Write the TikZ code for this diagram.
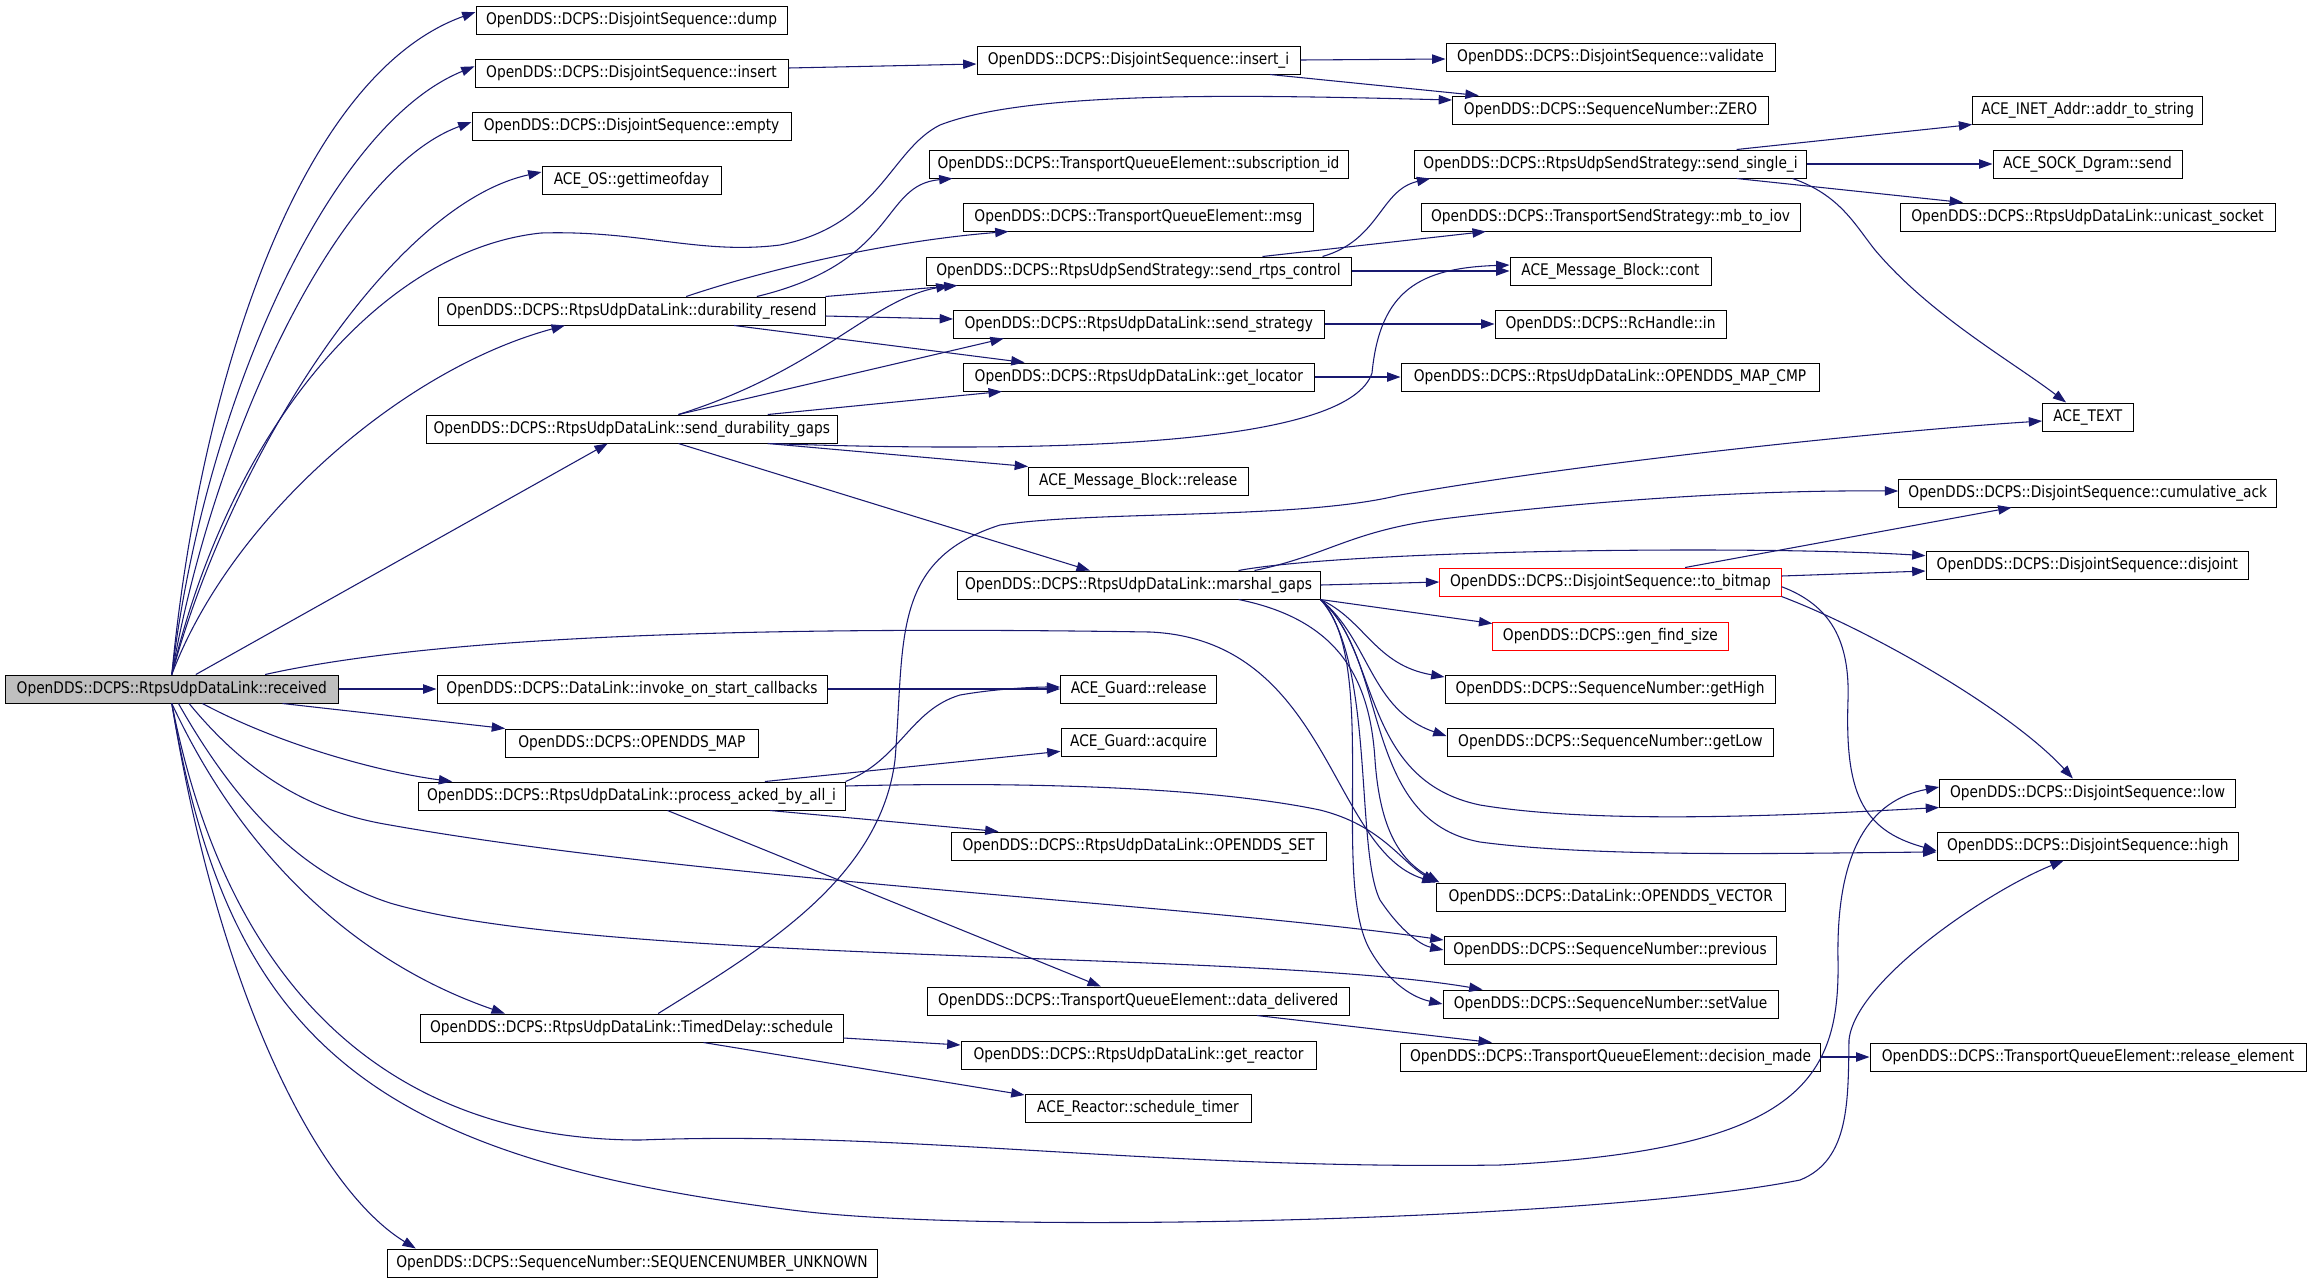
\documentclass[tikz,border=0pt]{standalone}
\usepackage{fontspec}
\setmainfont{DejaVu Sans}[FakeStretch=0.86]
\usetikzlibrary{arrows.meta}
\definecolor{callblue}{HTML}{191970}
\definecolor{rootgray}{HTML}{BFBFBF}
\tikzset{
  fn/.style={draw=black, line width=0.75pt, minimum height=21pt, inner xsep=0pt, inner ysep=0pt,
    font=\fontsize{12}{14}\selectfont},
  fnext/.style={fn, draw=red},
  fnroot/.style={fn, fill=rootgray},
  call/.style={draw=callblue, line width=0.8pt, -{Triangle[length=10pt,width=7pt]}}
}
\begin{document}
\begin{tikzpicture}[x=0.75pt,y=-0.75pt]
\useasboundingbox (0,0) rectangle (2312,1283);
% boxes: name/left/right/y/text
\foreach \n/\xa/\xb/\yc/\txt in {
  dump/476/787/20/OpenDDS::DCPS::DisjointSequence::dump,
  ins/475/788/73/OpenDDS::DCPS::DisjointSequence::insert,
  empty/472/791/126/OpenDDS::DCPS::DisjointSequence::empty,
  tod/542/721/180/ACE\_OS::gettimeofday,
  dres/438/825/311/OpenDDS::DCPS::RtpsUdpDataLink::durability\_resend,
  sdg/426.5/837/429/OpenDDS::DCPS::RtpsUdpDataLink::send\_durability\_gaps,
  insi/977/1300/60/OpenDDS::DCPS::DisjointSequence::insert\_i,
  valid/1446/1775/57/OpenDDS::DCPS::DisjointSequence::validate,
  zero/1452.5/1768.6/110/OpenDDS::DCPS::SequenceNumber::ZERO,
  subid/929/1348/164/OpenDDS::DCPS::TransportQueueElement::subscription\_id,
  msg/963.7/1313/217/OpenDDS::DCPS::TransportQueueElement::msg,
  srtps/926/1351/271/OpenDDS::DCPS::RtpsUdpSendStrategy::send\_rtps\_control,
  sstrat/953.5/1324/324/OpenDDS::DCPS::RtpsUdpDataLink::send\_strategy,
  getloc/963.7/1314/377/OpenDDS::DCPS::RtpsUdpDataLink::get\_locator,
  mbrel/1028.5/1248/481/ACE\_Message\_Block::release,
  mgaps/957/1320/585/OpenDDS::DCPS::RtpsUdpDataLink::marshal\_gaps,
  ssing/1414.7/1806.4/164/OpenDDS::DCPS::RtpsUdpSendStrategy::send\_single\_i,
  mbiov/1421/1800/217/OpenDDS::DCPS::TransportSendStrategy::mb\_to\_iov,
  mbcont/1510/1711/271/ACE\_Message\_Block::cont,
  rcin/1495/1726/324/OpenDDS::DCPS::RcHandle::in,
  mapcmp/1401/1819/377/OpenDDS::DCPS::RtpsUdpDataLink::OPENDDS\_MAP\_CMP,
  a2s/1972.7/2202.8/110/ACE\_INET\_Addr::addr\_to\_string,
  dgram/1993/2182/164/ACE\_SOCK\_Dgram::send,
  ucast/1900/2275/217/OpenDDS::DCPS::RtpsUdpDataLink::unicast\_socket,
  acetext/2042.6/2133/417/ACE\_TEXT,
  cack/1898.7/2276.8/493/OpenDDS::DCPS::DisjointSequence::cumulative\_ack,
  disj/1926/2248.7/565/OpenDDS::DCPS::DisjointSequence::disjoint,
  invoke/437/827/689/OpenDDS::DCPS::DataLink::invoke\_on\_start\_callbacks,
  omap/505.6/758/743/OpenDDS::DCPS::OPENDDS\_MAP,
  pack/418/845/796/OpenDDS::DCPS::RtpsUdpDataLink::process\_acked\_by\_all\_i,
  tds/420/843/1028/OpenDDS::DCPS::RtpsUdpDataLink::TimedDelay::schedule,
  snu/387/877/1263/OpenDDS::DCPS::SequenceNumber::SEQUENCENUMBER\_UNKNOWN,
  grel/1060.6/1216.7/689/ACE\_Guard::release,
  gacq/1061/1216/742/ACE\_Guard::acquire,
  oset/951/1326/846/OpenDDS::DCPS::RtpsUdpDataLink::OPENDDS\_SET,
  ddel/927.4/1349/1001/OpenDDS::DCPS::TransportQueueElement::data\_delivered,
  greac/961/1316/1055/OpenDDS::DCPS::RtpsUdpDataLink::get\_reactor,
  stimer/1025/1251/1108/ACE\_Reactor::schedule\_timer,
  ghigh/1445/1775/689/OpenDDS::DCPS::SequenceNumber::getHigh,
  glow/1447/1773.7/742/OpenDDS::DCPS::SequenceNumber::getLow,
  ovec/1436/1785.5/897/OpenDDS::DCPS::DataLink::OPENDDS\_VECTOR,
  prev/1444/1776/950/OpenDDS::DCPS::SequenceNumber::previous,
  setv/1443/1778/1004/OpenDDS::DCPS::SequenceNumber::setValue,
  dmade/1400.4/1820.7/1057/OpenDDS::DCPS::TransportQueueElement::decision\_made,
  low/1939.6/2235.5/793/OpenDDS::DCPS::DisjointSequence::low,
  high/1937/2238.5/846/OpenDDS::DCPS::DisjointSequence::high,
  relel/1870/2306/1057/OpenDDS::DCPS::TransportQueueElement::release\_element}
\node[fn, minimum width={(\xb-\xa)*0.75pt}] (\n) at ({(\xa+\xb)/2},\yc) {\txt};
\node[fnroot, minimum width=249.3pt] (rcv) at (171.8,689) {OpenDDS::DCPS::RtpsUdpDataLink::received};
\node[fnext, minimum width=256pt] (tobit) at (1610.4,582) {OpenDDS::DCPS::DisjointSequence::to\_bitmap};
\node[fnext, minimum width=176.4pt] (gfs) at (1610.4,636) {OpenDDS::DCPS::gen\_find\_size};
% calls from received
\draw[call] (rcv.north) .. controls (200,380) and (300,75) .. ([yshift=6pt]dump.west);
\draw[call] (rcv.north) .. controls (205,400) and (330,125) .. ([yshift=5pt]ins.west);
\draw[call] (rcv.north) .. controls (215,430) and (340,170) .. ([yshift=3pt]empty.west);
\draw[call] (rcv.north) .. controls (230,460) and (390,205) .. ([yshift=6pt]tod.west);
\draw[call] (rcv.north) .. controls (230,430) and (380,250) .. (541,233) .. controls (640,230) and (700,255) .. (780,245)
  .. controls (880,225) and (890,150) .. (940,125) .. controls (1030,90) and (1250,95) .. ([yshift=7.5pt]zero.west);
\draw[call] (rcv.north) .. controls (230,520) and (400,370) .. ([xshift=-50pt]dres.south);
\draw[call] ([xshift=18pt]rcv.north) -- ([xshift=-18pt]sdg.south);
\draw[call] ([xshift=70pt]rcv.north) .. controls (420,640) and (700,625) .. (1150,632) .. controls (1330,640) and (1330,850) .. (ovec.north west);
\draw[call] (rcv.east) -- (invoke.west);
\draw[call] ([xshift=83pt]rcv.south) -- (omap.north west);
\draw[call] ([xshift=23pt]rcv.south) .. controls (280,745) and (380,772) .. ([xshift=26pt]pack.north west);
\draw[call] ([xshift=13pt]rcv.south) .. controls (260,790) and (330,815) .. (390,825) .. controls (700,880) and (1200,905) .. ([yshift=7.5pt]prev.west);
\draw[call] ([xshift=5pt]rcv.south) .. controls (250,830) and (320,880) .. (390,903) .. controls (600,965) and (1250,950) .. ([xshift=30pt]setv.north west);
\draw[call] (rcv.south) .. controls (240,850) and (350,960) .. ([xshift=64pt]tds.north west);
\draw[call] (rcv.south) .. controls (230,1000) and (400,1140) .. (640,1140) .. controls (900,1130) and (1150,1170) .. (1500,1165)
  .. controls (1800,1150) and (1840,1080) .. (1838,960) .. controls (1836,850) and (1870,800) .. ([yshift=4.5pt]low.west);
\draw[call] (rcv.south) .. controls (230,1050) and (380,1160) .. (800,1211) .. controls (1000,1235) and (1600,1220) .. (1800,1180)
  .. controls (1850,1160) and (1848,1100) .. (1849,1040) .. controls (1855,980) and (1990,890) .. ([xshift=-18pt]high.south);
\draw[call] (rcv.south) .. controls (220,1000) and (320,1190) .. ([xshift=22pt]snu.north west);
% durability_resend
\draw[call] ([xshift=94pt]dres.north) .. controls (900,262) and (880,185) .. ([xshift=18pt]subid.south west);
\draw[call] ([xshift=41pt]dres.north) .. controls (780,265) and (900,240) .. ([xshift=34pt]msg.south west);
\draw[call] (dres.north east) -- ([xshift=24pt]srtps.south west);
\draw[call] ([yshift=-3.75pt]dres.east) -- ([yshift=3.75pt]sstrat.west);
\draw[call] ([xshift=77pt]dres.south) -- ([xshift=46pt]getloc.north west);
% send_durability_gaps
\draw[call] ([xshift=35pt]sdg.north) .. controls (820,370) and (870,300) .. ([xshift=18pt]srtps.south west);
\draw[call] ([xshift=35pt]sdg.north) -- ([xshift=38pt]sstrat.south west);
\draw[call] ([xshift=102pt]sdg.north) -- ([xshift=29pt]getloc.south west);
\draw[call] ([xshift=102pt]sdg.south) .. controls (1100,455) and (1350,440) .. (1372,373) .. controls (1380,290) and (1420,268) .. ([yshift=4.5pt]mbcont.west);
\draw[call] ([xshift=102pt]sdg.south) -- (mbrel.north west);
\draw[call] ([xshift=35pt]sdg.south) -- ([xshift=100pt]mgaps.north west);
% insert
\draw[call] ([yshift=3.75pt]ins.east) -- ([yshift=-3pt]insi.west);
\draw[call] (insi.east) -- ([yshift=-1.5pt]valid.west);
\draw[call] ([xshift=98.6pt]insi.south) -- ([xshift=20pt]zero.north west);
% send_rtps_control, send_strategy, get_locator
\draw[call] ([xshift=138pt]srtps.north) .. controls (1380,240) and (1380,190) .. ([xshift=12pt]ssing.south west);
\draw[call] ([xshift=93pt]srtps.north) -- ([xshift=49pt]mbiov.south west);
\draw[call] (srtps.east) -- (mbcont.west);
\draw[call] (sstrat.east) -- (rcin.west);
\draw[call] (getloc.east) -- (mapcmp.west);
% send_single_i
\draw[call] ([xshift=94.5pt]ssing.north) -- (a2s.south west);
\draw[call] (ssing.east) -- (dgram.west);
\draw[call] ([xshift=94.5pt]ssing.south) -- ([xshift=47.6pt]ucast.north west);
\draw[call] ([xshift=136.5pt]ssing.south) .. controls (1840,195) and (1855,225) .. (1875,250) .. controls (1930,315) and (2010,360) .. ([xshift=18pt]acetext.north west);
% marshal_gaps
\draw[call] (mgaps.east) -- (tobit.west);
\draw[call] (mgaps.south east) -- ([yshift=-1.5pt]gfs.north west);
\draw[call] ([xshift=87pt]mgaps.north) .. controls (1330,555) and (1350,530) .. (1450,518) .. controls (1600,500) and (1750,490) .. ([yshift=1.5pt]cack.west);
\draw[call] ([xshift=75pt]mgaps.north) .. controls (1350,550) and (1750,545) .. ([yshift=7pt]disj.west);
\draw[call] (mgaps.south east) .. controls (1365,620) and (1375,665) .. ([yshift=9pt]ghigh.west);
\draw[call] (mgaps.south east) .. controls (1370,640) and (1370,710) .. ([yshift=4.5pt]glow.west);
\draw[call] (mgaps.south east) .. controls (1380,650) and (1360,780) .. (1480,805) .. controls (1600,825) and (1800,815) .. (low.south west);
\draw[call] (mgaps.south east) .. controls (1390,660) and (1360,820) .. (1480,842) .. controls (1600,858) and (1800,853) .. ([yshift=-4.5pt]high.west);
\draw[call] ([xshift=75pt]mgaps.south) .. controls (1340,620) and (1370,680) .. (1375,760) .. controls (1380,830) and (1400,860) .. ([xshift=3pt]ovec.north west);
\draw[call] (mgaps.south east) .. controls (1375,660) and (1355,850) .. (1380,900) .. controls (1400,930) and (1420,945) .. (prev.west);
\draw[call] (mgaps.south east) .. controls (1380,660) and (1330,880) .. (1370,950) .. controls (1390,985) and (1415,998) .. (setv.west);
% to_bitmap
\draw[call] ([xshift=56pt]tobit.north) -- ([xshift=85pt]cack.south west);
\draw[call] ([yshift=4.5pt]tobit.east) -- ([yshift=-4.5pt]disj.west);
\draw[call] (tobit.south east) .. controls (1870,630) and (2010,710) .. ([xshift=-11pt]low.north);
\draw[call] ([yshift=-3.5pt]tobit.east) .. controls (1830,605) and (1850,640) .. (1848,700) .. controls (1845,790) and (1860,830) .. ([yshift=-3.5pt]high.west);
% process_acked_by_all_i, invoke_on_start_callbacks
\draw[call] (pack.north east) .. controls (900,760) and (910,710) .. (960,695) .. controls (1000,688) and (1040,687) .. ([yshift=1.5pt]grel.west);
\draw[call] ([xshift=100pt]pack.north) -- ([yshift=-7pt]gacq.west);
\draw[call] ([yshift=7.5pt]pack.east) .. controls (1000,782) and (1200,785) .. (1320,810) .. controls (1380,825) and (1400,860) .. (ovec.north west);
\draw[call] ([xshift=104pt]pack.south) -- ([xshift=36pt]oset.north west);
\draw[call] ([xshift=27pt]pack.south) -- ([xshift=-28pt]ddel.north);
\draw[call] (invoke.east) -- (grel.west);
% TimedDelay::schedule
\draw[call] ([xshift=20pt]tds.north) .. controls (760,950) and (880,880) .. (895,760) .. controls (905,640) and (890,560) .. (1000,525)
  .. controls (1100,510) and (1300,520) .. (1400,495) .. controls (1600,460) and (1900,430) .. ([yshift=-3pt]acetext.west);
\draw[call] ([yshift=-7.5pt]tds.east) -- ([yshift=7.5pt]greac.west);
\draw[call] ([xshift=54pt]tds.south) -- ([yshift=9.75pt]stimer.west);
\draw[call] ([xshift=89pt]ddel.south) -- ([xshift=-89pt]dmade.north);
\draw[call] (dmade.east) -- (relel.west);
\end{tikzpicture}
\end{document}
